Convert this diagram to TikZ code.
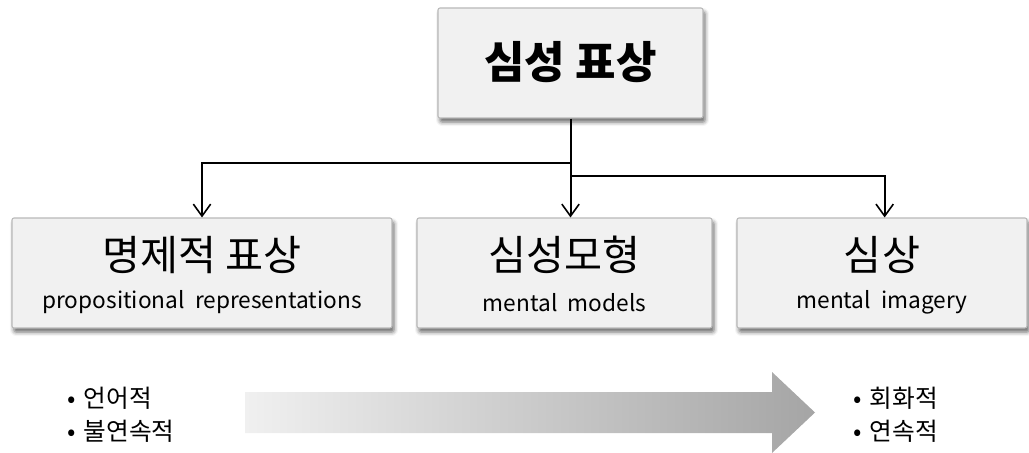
\documentclass[tikz,border=0pt]{standalone}
\usepackage{fontspec}
\setmainfont{Noto Sans CJK KR}
\usetikzlibrary{arrows.meta,shadows.blur}

\definecolor{boxfill}{RGB}{241,241,241}
\definecolor{boxline}{RGB}{185,185,185}
\definecolor{flowlight}{RGB}{240,240,240}
\definecolor{flowdark}{RGB}{165,165,165}

\tikzset{
  card/.style={draw=boxline, line width=0.8pt, fill=boxfill, rounded corners=1.5pt,
    blur shadow={shadow xshift=1.5pt, shadow yshift=-3pt, shadow blur radius=3pt, shadow opacity=60},
    inner sep=0pt, minimum height=82.5pt},
  link/.style={draw=black, line width=1.5pt, -{Straight Barb[length=9pt,width=13pt,line width=1.2pt]}},
  heading/.style={font=\fontsize{31}{35}\selectfont, inner sep=0pt},
  subtitle/.style={font=\fontsize{17}{20}\selectfont, inner sep=0pt},
  bullets/.style={anchor=west, font=\fontsize{18.5}{22}\selectfont, inner sep=0pt}
}

\begin{document}
\begin{tikzpicture}[x=0.75pt, y=-0.75pt]
  \useasboundingbox (0,0) rectangle (1029,453);

  % concept boxes
  \node[card, minimum width=198.75pt] (top) at (570.5,63) {};
  \node[card, minimum width=285pt] (left) at (202,273) {};
  \node[card, minimum width=221.25pt] (mid) at (564.5,273) {};
  \node[card, minimum width=217.5pt] (right) at (882,273) {};

  % box texts
  \node[heading, font=\fontsize{33}{37}\selectfont\bfseries] (topt) at ([yshift=1pt]top.center) {심성 표상};
  \node[heading] (leftt) at ([yshift=13.5pt]left.center) {명제적 표상};
  \node[subtitle] (lefts) at ([yshift=-22pt]left.center) {propositional\ \ representations};
  \node[heading] (midt) at ([yshift=13.5pt]mid.center) {심성모형};
  \node[subtitle] (mids) at ([yshift=-22pt]mid.center) {mental\ \ models};
  \node[heading] (rightt) at ([yshift=13.5pt]right.center) {심상};
  \node[subtitle] (rights) at ([yshift=-22pt]right.center) {mental\ \ imagery};

  % branching connectors
  \coordinate (jl) at (570,163);
  \coordinate (jr) at (570,176);
  \draw[link] (top.south) -- (top.south |- mid.north);
  \draw[link] (top.south |- jl) -| (left.north);
  \draw[link] (top.south |- jr) -| ([xshift=2pt]right.north);

  % continuum arrow
  \shade[left color=flowlight, right color=flowdark]
    (245,392) -- (772,392) -- (772,372) -- (815,412.5) -- (772,453) -- (772,433) -- (245,433) -- cycle;

  % poles of the continuum
  \node[bullets] (l1) at (67,398) {•\hspace{6pt}언어적};
  \node[bullets] (l2) at (67,431) {•\hspace{6pt}불연속적};
  \node[bullets] (r1) at (853,398) {•\hspace{6pt}회화적};
  \node[bullets] (r2) at (853,431) {•\hspace{6pt}연속적};
\end{tikzpicture}
\end{document}
